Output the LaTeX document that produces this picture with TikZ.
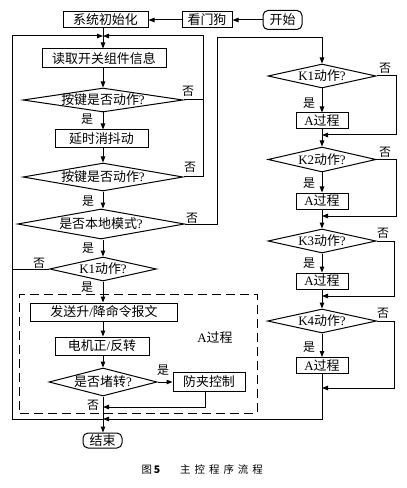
\documentclass[tikz,border=0pt]{standalone}
\usepackage{fontspec}
\setmainfont{Liberation Serif}
\newfontfamily\cjk{Noto Sans CJK SC}
\usetikzlibrary{shapes.geometric,arrows.meta,calc}
\newcommand{\zht}[1]{{\cjk #1}}
\begin{document}
\begin{tikzpicture}[x=1bp,y=-1bp,
  every node/.style={font=\fontsize{13}{15}\selectfont},
  ln/.style={line width=1bp},
  arr/.style={line width=1bp,-{Triangle[length=6bp,width=4.5bp]}},
  boxn/.style={draw,line width=1bp,inner sep=0pt,minimum height=18bp},
  roundn/.style={boxn,rounded corners=5bp},
  dia/.style={draw,line width=1bp,diamond,inner xsep=0pt,inner ysep=-6bp},
  lab/.style={inner sep=0pt,font=\fontsize{12}{14}\selectfont\cjk}]
\path[use as bounding box] (0,0) rectangle (406,488);
\coordinate (mc) at (103,0);
\coordinate (rc) at (322,0);
\coordinate (top) at (103,36);
\coordinate (lt) at (12,36);
\coordinate (lb) at (12,419);
\coordinate (rt) at (203,36);
\coordinate (r3t) at (217,38);
\coordinate (rct) at (322,38);
\coordinate (ar) at (205,407);
% main column
\node[boxn,minimum width=85bp,minimum height=16bp] (init) at (105.5,20) {\zht{系统初始化}};
\node[boxn,minimum width=50bp,minimum height=16bp] (wdog) at (207,20) {\zht{看门狗}};
\node[roundn,minimum width=39bp,minimum height=19bp] (start) at (282.5,20) {\zht{开始}};
\node[boxn,minimum width=124bp,minimum height=19bp] (read) at (104,58.5) {\zht{读取开关组件信息}};
\node[dia,minimum width=160bp,minimum height=24bp,aspect=6.67] (d1) at (103,100) {\zht{按键是否动作}?};
\node[boxn,minimum width=93bp] (delay) at (101.5,139) {\zht{延时消抖动}};
\node[dia,minimum width=160bp,minimum height=28bp,aspect=5.71] (d2) at (103,177) {\zht{按键是否动作}?};
\node[dia,minimum width=167bp,minimum height=30bp,aspect=5.57] (d3) at (101,224) {\zht{是否本地模式}?};
\node[dia,minimum width=107bp,minimum height=24bp,aspect=4.46] (d4) at (103,269) {K1\zht{动作}?};
\node[draw,line width=1bp,dash pattern=on 9bp off 5bp,inner sep=0pt,minimum width=237bp,minimum height=119bp] (abox) at (138.5,353.5) {};
\node[boxn,minimum width=146bp] (send) at (104,312) {\zht{发送升}/\zht{降命令报文}};
\node[boxn,minimum width=94bp] (motor) at (102,346) {\zht{电机正}/\zht{反转}};
\node[inner sep=0pt] (alab) at (215,338) {A\zht{过程}};
\node[dia,minimum width=108bp,minimum height=28bp,aspect=3.86] (d5) at (103,382) {\zht{是否堵转}?};
\node[boxn,minimum width=72bp,minimum height=19bp] (anti) at (209,382) {\zht{防夹控制}};
\node[roundn,minimum width=39bp,minimum height=15bp] (end) at (102.5,440.5) {\zht{结束}};
% right column
\node[dia,minimum width=108bp,minimum height=24bp,aspect=4.5] (r1) at (322,76) {K1\zht{动作}?};
\node[boxn,minimum width=52bp,minimum height=16bp] (a1) at (322,121) {A\zht{过程}};
\node[dia,minimum width=108bp,minimum height=25bp,aspect=4.32] (r2) at (322,159.5) {K2\zht{动作}?};
\node[boxn,minimum width=52bp,minimum height=16bp] (a2) at (322,201) {A\zht{过程}};
\node[dia,minimum width=108bp,minimum height=24bp,aspect=4.5] (r3) at (322,241) {K3\zht{动作}?};
\node[boxn,minimum width=52bp,minimum height=16bp] (a3) at (322,281) {A\zht{过程}};
\node[dia,minimum width=109bp,minimum height=24bp,aspect=4.54] (r4) at (322,321) {K4\zht{动作}?};
\node[boxn,minimum width=52bp,minimum height=16bp] (a4) at (322,365.5) {A\zht{过程}};
\coordinate (m1) at (322,135);
\coordinate (rr1) at (396,135);
\coordinate (m2) at (322,216);
\coordinate (rr2) at (396,216);
\coordinate (m3) at (322,296);
\coordinate (rr3) at (394,296);
\coordinate (m4) at (322,388);
\coordinate (rr4) at (394,388);
% connectors top
\draw[arr] (start.west) -- (wdog.east);
\draw[arr] (wdog.west) -- (init.east);
\draw[arr] (init.south -| mc) -- (read.north -| mc);
\draw[arr] (read.south -| mc) -- (d1.north);
\draw[arr] (d1.south) -- (delay.north -| mc);
\draw[arr] (delay.south -| mc) -- (d2.north);
\draw[arr] (d2.south) -- (d3.north -| mc);
\draw[arr] (d3.south -| mc) -- (d4.north);
\draw[arr] (d4.south) -- (send.north -| mc);
\draw[arr] (send.south -| mc) -- (motor.north -| mc);
\draw[arr] (motor.south -| mc) -- (d5.north);
\draw[arr] (d5.east) -- (anti.west);
\draw[arr] (d5.south) -- (end.north -| mc);
\draw[arr] (anti.south -| ar) -- (ar) -- (ar -| mc);
% loops
\draw[ln] (d1.east) -- (d1.east -| rt);
\draw[arr] (d2.east) -| (rt) -- (top);
\draw[arr] (d3.east) -| (r3t) -- (rct) -- (r1.north);
\draw[ln] (d4.west) -- (d4.west -| lt);
\draw[arr] (mc |- lb) -- (lb) -- (lt) -- (top);
\draw[arr] (a4.south) -- (rc |- lb) -- (mc |- lb);
% right column connectors
\draw[arr] (r1.south) -- (a1.north);
\draw[arr] (r1.east) -| (rr1) -- (m1);
\draw[arr] (a1.south) -- (r2.north);
\draw[arr] (r2.south) -- (a2.north);
\draw[arr] (r2.east) -| (rr2) -- (m2);
\draw[arr] (a2.south) -- (r3.north);
\draw[arr] (r3.south) -- (a3.north);
\draw[arr] (r3.east) -| (rr3) -- (m3);
\draw[arr] (a3.south) -- (r4.north);
\draw[arr] (r4.south) -- (a4.north);
\draw[arr] (r4.east) -| (rr4) -- (m4);
% labels
\node[lab] (y1) at (87,119) {是};
\node[lab] (y2) at (88,201) {是};
\node[lab] (y3) at (88,248) {是};
\node[lab] (y4) at (87,287) {是};
\node[lab] (y5) at (163,370) {是};
\node[lab] (y6) at (309,103) {是};
\node[lab] (y7) at (309,183) {是};
\node[lab] (y8) at (309,263) {是};
\node[lab] (y9) at (309,347) {是};
\node[lab] (n1) at (188,91) {否};
\node[lab] (n2) at (190,167) {否};
\node[lab] (n3) at (192,218) {否};
\node[lab] (n4) at (39,263) {否};
\node[lab] (n5) at (93,405) {否};
\node[lab] (n6) at (385,68) {否};
\node[lab] (n7) at (385,152) {否};
\node[lab] (n8) at (383,233) {否};
\node[lab] (n9) at (383,313) {否};
% caption
\node[inner sep=0pt,font=\fontsize{10.5}{12}\selectfont\cjk] (cap1) at (151,470) {图\,\textbf{5}};
\node[inner sep=0pt,font=\fontsize{10.5}{12}\selectfont\cjk] (cap2) at (221.5,470) {主\hspace{4bp}控\hspace{4bp}程\hspace{4bp}序\hspace{4bp}流\hspace{4bp}程};
\end{tikzpicture}
\end{document}
